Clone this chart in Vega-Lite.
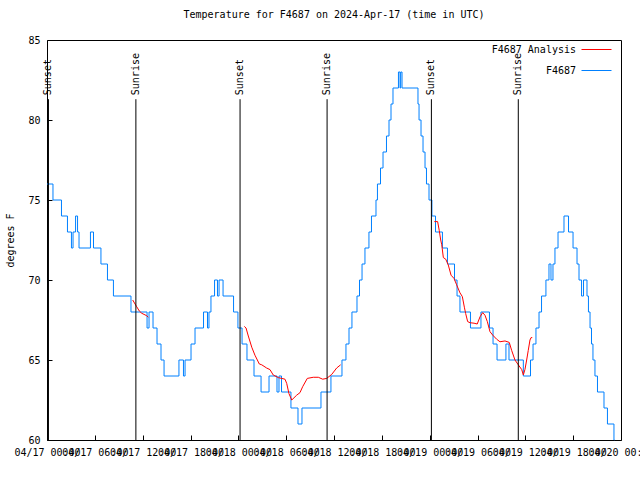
{
  "$schema": "https://vega.github.io/schema/vega-lite/v6.json",
  "width": 574,
  "height": 400,
  "autosize": {"type": "none"},
  "padding": {"left": 47, "top": 40, "right": 19, "bottom": 40},
  "background": "white",
  "title": {"text": "Temperature for F4687 on 2024-Apr-17 (time in UTC)", "font": "DejaVu Sans Mono", "fontSize": 10, "fontWeight": "normal", "color": "black", "anchor": "middle", "offset": 14},
  "datasets": {
    "obs": [
      {"time": "2024-04-17T00:00:00Z", "temp": 76},
      {"time": "2024-04-17T00:45:00Z", "temp": 75},
      {"time": "2024-04-17T01:49:00Z", "temp": 74},
      {"time": "2024-04-17T02:34:00Z", "temp": 73},
      {"time": "2024-04-17T03:04:00Z", "temp": 72},
      {"time": "2024-04-17T03:16:00Z", "temp": 73},
      {"time": "2024-04-17T03:35:00Z", "temp": 74},
      {"time": "2024-04-17T03:50:00Z", "temp": 73},
      {"time": "2024-04-17T04:01:00Z", "temp": 72},
      {"time": "2024-04-17T05:27:00Z", "temp": 73},
      {"time": "2024-04-17T05:50:00Z", "temp": 72},
      {"time": "2024-04-17T06:46:00Z", "temp": 71},
      {"time": "2024-04-17T07:35:00Z", "temp": 70},
      {"time": "2024-04-17T08:20:00Z", "temp": 69},
      {"time": "2024-04-17T10:32:00Z", "temp": 68},
      {"time": "2024-04-17T12:33:00Z", "temp": 67},
      {"time": "2024-04-17T12:48:00Z", "temp": 68},
      {"time": "2024-04-17T13:18:00Z", "temp": 67},
      {"time": "2024-04-17T13:48:00Z", "temp": 66},
      {"time": "2024-04-17T14:18:00Z", "temp": 65},
      {"time": "2024-04-17T14:41:00Z", "temp": 64},
      {"time": "2024-04-17T16:33:00Z", "temp": 65},
      {"time": "2024-04-17T17:07:00Z", "temp": 64},
      {"time": "2024-04-17T17:19:00Z", "temp": 65},
      {"time": "2024-04-17T18:04:00Z", "temp": 66},
      {"time": "2024-04-17T18:34:00Z", "temp": 67},
      {"time": "2024-04-17T19:38:00Z", "temp": 68},
      {"time": "2024-04-17T20:08:00Z", "temp": 67},
      {"time": "2024-04-17T20:19:00Z", "temp": 68},
      {"time": "2024-04-17T20:34:00Z", "temp": 69},
      {"time": "2024-04-17T21:01:00Z", "temp": 70},
      {"time": "2024-04-17T21:23:00Z", "temp": 69},
      {"time": "2024-04-17T21:35:00Z", "temp": 70},
      {"time": "2024-04-17T22:05:00Z", "temp": 69},
      {"time": "2024-04-17T23:24:00Z", "temp": 68},
      {"time": "2024-04-17T23:57:00Z", "temp": 67},
      {"time": "2024-04-18T00:28:00Z", "temp": 66},
      {"time": "2024-04-18T01:05:00Z", "temp": 65},
      {"time": "2024-04-18T01:58:00Z", "temp": 64},
      {"time": "2024-04-18T02:51:00Z", "temp": 63},
      {"time": "2024-04-18T03:51:00Z", "temp": 64},
      {"time": "2024-04-18T04:51:00Z", "temp": 63},
      {"time": "2024-04-18T05:06:00Z", "temp": 64},
      {"time": "2024-04-18T05:25:00Z", "temp": 63},
      {"time": "2024-04-18T06:36:00Z", "temp": 62},
      {"time": "2024-04-18T07:29:00Z", "temp": 61},
      {"time": "2024-04-18T07:59:00Z", "temp": 62},
      {"time": "2024-04-18T10:22:00Z", "temp": 63},
      {"time": "2024-04-18T11:37:00Z", "temp": 64},
      {"time": "2024-04-18T13:00:00Z", "temp": 65},
      {"time": "2024-04-18T13:30:00Z", "temp": 66},
      {"time": "2024-04-18T13:53:00Z", "temp": 67},
      {"time": "2024-04-18T14:15:00Z", "temp": 68},
      {"time": "2024-04-18T14:53:00Z", "temp": 69},
      {"time": "2024-04-18T15:12:00Z", "temp": 70},
      {"time": "2024-04-18T15:31:00Z", "temp": 71},
      {"time": "2024-04-18T15:53:00Z", "temp": 72},
      {"time": "2024-04-18T16:23:00Z", "temp": 73},
      {"time": "2024-04-18T16:42:00Z", "temp": 74},
      {"time": "2024-04-18T17:16:00Z", "temp": 75},
      {"time": "2024-04-18T17:27:00Z", "temp": 76},
      {"time": "2024-04-18T17:50:00Z", "temp": 77},
      {"time": "2024-04-18T18:09:00Z", "temp": 78},
      {"time": "2024-04-18T18:35:00Z", "temp": 79},
      {"time": "2024-04-18T18:54:00Z", "temp": 80},
      {"time": "2024-04-18T19:09:00Z", "temp": 81},
      {"time": "2024-04-18T19:24:00Z", "temp": 82},
      {"time": "2024-04-18T20:05:00Z", "temp": 83},
      {"time": "2024-04-18T20:17:00Z", "temp": 82},
      {"time": "2024-04-18T20:22:00Z", "temp": 83},
      {"time": "2024-04-18T20:32:00Z", "temp": 82},
      {"time": "2024-04-18T22:32:00Z", "temp": 81},
      {"time": "2024-04-18T22:40:00Z", "temp": 80},
      {"time": "2024-04-18T22:55:00Z", "temp": 79},
      {"time": "2024-04-18T23:10:00Z", "temp": 78},
      {"time": "2024-04-18T23:25:00Z", "temp": 77},
      {"time": "2024-04-18T23:36:00Z", "temp": 76},
      {"time": "2024-04-18T23:55:00Z", "temp": 75},
      {"time": "2024-04-19T00:17:00Z", "temp": 74},
      {"time": "2024-04-19T00:44:00Z", "temp": 73},
      {"time": "2024-04-19T01:36:00Z", "temp": 72},
      {"time": "2024-04-19T02:14:00Z", "temp": 71},
      {"time": "2024-04-19T03:07:00Z", "temp": 70},
      {"time": "2024-04-19T03:26:00Z", "temp": 69},
      {"time": "2024-04-19T03:48:00Z", "temp": 68},
      {"time": "2024-04-19T05:07:00Z", "temp": 67},
      {"time": "2024-04-19T06:26:00Z", "temp": 68},
      {"time": "2024-04-19T07:30:00Z", "temp": 67},
      {"time": "2024-04-19T07:57:00Z", "temp": 66},
      {"time": "2024-04-19T08:27:00Z", "temp": 65},
      {"time": "2024-04-19T09:34:00Z", "temp": 66},
      {"time": "2024-04-19T09:57:00Z", "temp": 65},
      {"time": "2024-04-19T11:45:00Z", "temp": 64},
      {"time": "2024-04-19T12:39:00Z", "temp": 65},
      {"time": "2024-04-19T12:58:00Z", "temp": 66},
      {"time": "2024-04-19T13:20:00Z", "temp": 67},
      {"time": "2024-04-19T13:43:00Z", "temp": 68},
      {"time": "2024-04-19T14:02:00Z", "temp": 69},
      {"time": "2024-04-19T14:35:00Z", "temp": 70},
      {"time": "2024-04-19T14:58:00Z", "temp": 71},
      {"time": "2024-04-19T15:13:00Z", "temp": 70},
      {"time": "2024-04-19T15:28:00Z", "temp": 71},
      {"time": "2024-04-19T15:43:00Z", "temp": 72},
      {"time": "2024-04-19T16:06:00Z", "temp": 73},
      {"time": "2024-04-19T16:51:00Z", "temp": 74},
      {"time": "2024-04-19T17:25:00Z", "temp": 73},
      {"time": "2024-04-19T17:59:00Z", "temp": 72},
      {"time": "2024-04-19T18:29:00Z", "temp": 71},
      {"time": "2024-04-19T18:44:00Z", "temp": 70},
      {"time": "2024-04-19T19:03:00Z", "temp": 69},
      {"time": "2024-04-19T19:18:00Z", "temp": 70},
      {"time": "2024-04-19T19:44:00Z", "temp": 69},
      {"time": "2024-04-19T19:55:00Z", "temp": 68},
      {"time": "2024-04-19T20:07:00Z", "temp": 67},
      {"time": "2024-04-19T20:18:00Z", "temp": 66},
      {"time": "2024-04-19T20:29:00Z", "temp": 65},
      {"time": "2024-04-19T20:44:00Z", "temp": 64},
      {"time": "2024-04-19T21:03:00Z", "temp": 63},
      {"time": "2024-04-19T21:52:00Z", "temp": 62},
      {"time": "2024-04-19T22:18:00Z", "temp": 61},
      {"time": "2024-04-19T23:07:00Z", "temp": 60},
      {"time": "2024-04-19T23:10:00Z", "temp": 60}
    ],
    "analysis": [
      {"time": "2024-04-17T10:45:00Z", "temp": 68.75, "seg": 1},
      {"time": "2024-04-17T11:15:00Z", "temp": 68.33, "seg": 1},
      {"time": "2024-04-17T11:35:00Z", "temp": 68.06, "seg": 1},
      {"time": "2024-04-17T11:53:00Z", "temp": 67.92, "seg": 1},
      {"time": "2024-04-17T12:30:00Z", "temp": 67.77, "seg": 1},
      {"time": "2024-04-17T12:42:00Z", "temp": 67.67, "seg": 1},
      {"time": "2024-04-18T00:45:00Z", "temp": 67.1, "seg": 2},
      {"time": "2024-04-18T00:58:00Z", "temp": 67.0, "seg": 2},
      {"time": "2024-04-18T01:15:00Z", "temp": 66.5, "seg": 2},
      {"time": "2024-04-18T01:41:00Z", "temp": 65.8, "seg": 2},
      {"time": "2024-04-18T02:05:00Z", "temp": 65.3, "seg": 2},
      {"time": "2024-04-18T02:38:00Z", "temp": 64.75, "seg": 2},
      {"time": "2024-04-18T02:56:00Z", "temp": 64.7, "seg": 2},
      {"time": "2024-04-18T03:33:00Z", "temp": 64.5, "seg": 2},
      {"time": "2024-04-18T03:58:00Z", "temp": 64.4, "seg": 2},
      {"time": "2024-04-18T04:23:00Z", "temp": 64.06, "seg": 2},
      {"time": "2024-04-18T05:01:00Z", "temp": 63.9, "seg": 2},
      {"time": "2024-04-18T05:51:00Z", "temp": 63.8, "seg": 2},
      {"time": "2024-04-18T06:04:00Z", "temp": 63.54, "seg": 2},
      {"time": "2024-04-18T06:21:00Z", "temp": 62.9, "seg": 2},
      {"time": "2024-04-18T06:42:00Z", "temp": 62.5, "seg": 2},
      {"time": "2024-04-18T07:19:00Z", "temp": 62.8, "seg": 2},
      {"time": "2024-04-18T07:44:00Z", "temp": 62.96, "seg": 2},
      {"time": "2024-04-18T08:04:00Z", "temp": 63.33, "seg": 2},
      {"time": "2024-04-18T08:39:00Z", "temp": 63.85, "seg": 2},
      {"time": "2024-04-18T09:24:00Z", "temp": 63.92, "seg": 2},
      {"time": "2024-04-18T10:02:00Z", "temp": 63.92, "seg": 2},
      {"time": "2024-04-18T10:35:00Z", "temp": 63.8, "seg": 2},
      {"time": "2024-04-18T11:05:00Z", "temp": 63.85, "seg": 2},
      {"time": "2024-04-18T11:43:00Z", "temp": 64.1, "seg": 2},
      {"time": "2024-04-18T12:20:00Z", "temp": 64.5, "seg": 2},
      {"time": "2024-04-18T12:50:00Z", "temp": 64.7, "seg": 2},
      {"time": "2024-04-19T00:35:00Z", "temp": 73.65, "seg": 3},
      {"time": "2024-04-19T01:00:00Z", "temp": 73.65, "seg": 3},
      {"time": "2024-04-19T01:12:00Z", "temp": 73.1, "seg": 3},
      {"time": "2024-04-19T01:23:00Z", "temp": 72.5, "seg": 3},
      {"time": "2024-04-19T01:31:00Z", "temp": 72.2, "seg": 3},
      {"time": "2024-04-19T01:43:00Z", "temp": 71.4, "seg": 3},
      {"time": "2024-04-19T02:01:00Z", "temp": 71.3, "seg": 3},
      {"time": "2024-04-19T02:20:00Z", "temp": 70.94, "seg": 3},
      {"time": "2024-04-19T02:41:00Z", "temp": 70.3, "seg": 3},
      {"time": "2024-04-19T03:03:00Z", "temp": 70.1, "seg": 3},
      {"time": "2024-04-19T03:23:00Z", "temp": 69.7, "seg": 3},
      {"time": "2024-04-19T03:48:00Z", "temp": 69.2, "seg": 3},
      {"time": "2024-04-19T04:06:00Z", "temp": 68.96, "seg": 3},
      {"time": "2024-04-19T04:21:00Z", "temp": 68.3, "seg": 3},
      {"time": "2024-04-19T04:31:00Z", "temp": 67.9, "seg": 3},
      {"time": "2024-04-19T04:46:00Z", "temp": 67.4, "seg": 3},
      {"time": "2024-04-19T05:04:00Z", "temp": 67.33, "seg": 3},
      {"time": "2024-04-19T05:34:00Z", "temp": 67.3, "seg": 3},
      {"time": "2024-04-19T05:58:00Z", "temp": 67.25, "seg": 3},
      {"time": "2024-04-19T06:19:00Z", "temp": 67.7, "seg": 3},
      {"time": "2024-04-19T06:39:00Z", "temp": 67.96, "seg": 3},
      {"time": "2024-04-19T06:56:00Z", "temp": 67.8, "seg": 3},
      {"time": "2024-04-19T07:14:00Z", "temp": 67.4, "seg": 3},
      {"time": "2024-04-19T07:34:00Z", "temp": 66.77, "seg": 3},
      {"time": "2024-04-19T07:54:00Z", "temp": 66.56, "seg": 3},
      {"time": "2024-04-19T08:24:00Z", "temp": 66.3, "seg": 3},
      {"time": "2024-04-19T08:49:00Z", "temp": 66.14, "seg": 3},
      {"time": "2024-04-19T09:27:00Z", "temp": 66.19, "seg": 3},
      {"time": "2024-04-19T09:59:00Z", "temp": 66.1, "seg": 3},
      {"time": "2024-04-19T10:17:00Z", "temp": 65.6, "seg": 3},
      {"time": "2024-04-19T10:42:00Z", "temp": 65.0, "seg": 3},
      {"time": "2024-04-19T11:07:00Z", "temp": 64.7, "seg": 3},
      {"time": "2024-04-19T11:33:00Z", "temp": 64.4, "seg": 3},
      {"time": "2024-04-19T11:45:00Z", "temp": 64.06, "seg": 3},
      {"time": "2024-04-19T11:57:00Z", "temp": 64.4, "seg": 3},
      {"time": "2024-04-19T12:10:00Z", "temp": 65.0, "seg": 3},
      {"time": "2024-04-19T12:22:00Z", "temp": 65.6, "seg": 3},
      {"time": "2024-04-19T12:35:00Z", "temp": 66.25, "seg": 3},
      {"time": "2024-04-19T12:43:00Z", "temp": 66.4, "seg": 3},
      {"time": "2024-04-19T12:52:00Z", "temp": 66.4, "seg": 3}
    ],
    "sun": [
      {"time": "2024-04-17T00:11:00Z", "event": "Sunset", "top": 81.3, "bottom": 60, "labelpos": 81.55},
      {"time": "2024-04-17T11:09:00Z", "event": "Sunrise", "top": 81.3, "bottom": 60, "labelpos": 81.55},
      {"time": "2024-04-18T00:13:00Z", "event": "Sunset", "top": 81.3, "bottom": 60, "labelpos": 81.55},
      {"time": "2024-04-18T11:08:00Z", "event": "Sunrise", "top": 81.3, "bottom": 60, "labelpos": 81.55},
      {"time": "2024-04-19T00:13:00Z", "event": "Sunset", "top": 81.3, "bottom": 60, "labelpos": 81.55},
      {"time": "2024-04-19T11:07:00Z", "event": "Sunrise", "top": 81.3, "bottom": 60, "labelpos": 81.55}
    ]
  },
  "layer": [
    {
      "data": {"name": "obs"},
      "mark": {"type": "line", "interpolate": "step-after", "strokeWidth": 1},
      "encoding": {
        "x": {"field": "time", "type": "temporal",
          "scale": {"type": "utc", "domain": [1713312000000, 1713571200000]},
          "axis": {"orient": "bottom", "title": null, "grid": false, "domain": false,
            "tickCount": 12, "format": "%m/%d %H:%M",
            "labelOverlap": false, "labelFlush": false, "labelLineHeight": 14,
            "tickColor": "black", "tickSize": -5, "labelPadding": 12,
            "encode": {"labels": {"update": {"lineBreak": {"value": " "}}}}}},
        "y": {"field": "temp", "type": "quantitative",
          "scale": {"domain": [60, 85], "nice": false, "zero": false},
          "axis": {"orient": "left", "title": "degrees F", "grid": false, "domain": false,
            "values": [60, 65, 70, 75, 80, 85], "tickColor": "black", "tickSize": -5, "labelPadding": 12,
            "titlePadding": 12}},
        "color": {"datum": "F4687", "type": "nominal",
          "scale": {"domain": ["F4687 Analysis", "F4687"], "range": ["#ff0000", "#0080ff"]},
          "legend": {"title": null, "orient": "none", "legendX": 534, "legendY": -6, "symbolType": "stroke", "symbolSize": 900, "symbolStrokeWidth": 1, "labelAlign": "right", "labelOffset": -36, "rowPadding": -8, "padding": 0}}
      }
    },
    {
      "data": {"name": "analysis"},
      "mark": {"type": "line", "strokeWidth": 1},
      "encoding": {
        "x": {"field": "time", "type": "temporal"},
        "y": {"field": "temp", "type": "quantitative"},
        "detail": {"field": "seg", "type": "nominal"},
        "color": {"datum": "F4687 Analysis", "type": "nominal"}
      }
    },
    {
      "data": {"name": "sun"},
      "mark": {"type": "rule", "color": "black", "strokeWidth": 1},
      "encoding": {
        "x": {"field": "time", "type": "temporal"},
        "y": {"field": "top", "type": "quantitative"},
        "y2": {"field": "bottom"}
      }
    },
    {
      "data": {"name": "sun"},
      "mark": {"type": "text", "angle": 270, "align": "left", "baseline": "middle", "font": "DejaVu Sans Mono", "fontSize": 10, "color": "black"},
      "encoding": {
        "x": {"field": "time", "type": "temporal"},
        "y": {"field": "labelpos", "type": "quantitative"},
        "text": {"field": "event"}
      }
    }
  ],
  "config": {
    "view": {"stroke": "black", "strokeWidth": 1},
    "font": "DejaVu Sans Mono",
    "axis": {"labelFont": "DejaVu Sans Mono", "labelFontSize": 10, "labelColor": "black", "titleFont": "DejaVu Sans Mono", "titleFontSize": 10, "titleFontWeight": "normal", "titleColor": "black"},
    "legend": {"labelFont": "DejaVu Sans Mono", "labelFontSize": 10, "labelColor": "black"}
  }
}
